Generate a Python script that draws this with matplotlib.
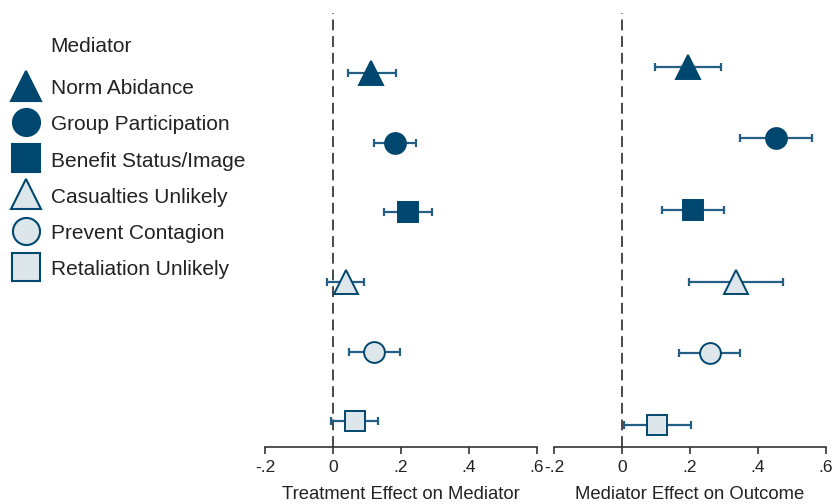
import matplotlib
matplotlib.use("Agg")
import matplotlib.pyplot as plt
from matplotlib.lines import Line2D

plt.rcParams['font.family'] = ['Liberation Sans', 'DejaVu Sans']

mediators = ["Norm Abidance", "Group Participation", "Benefit Status/Image",
             "Casualties Unlikely", "Prevent Contagion", "Retaliation Unlikely"]
treat_est = [0.113, 0.184, 0.221, 0.038, 0.122, 0.065]
treat_lo = [0.043, 0.121, 0.149, -0.016, 0.048, -0.005]
treat_hi = [0.185, 0.246, 0.292, 0.092, 0.197, 0.134]
out_est = [0.194, 0.453, 0.208, 0.335, 0.258, 0.104]
out_lo = [0.098, 0.347, 0.118, 0.197, 0.169, 0.004]
out_hi = [0.291, 0.560, 0.300, 0.474, 0.346, 0.204]
xticks = [-0.2, 0, 0.2, 0.4, 0.6]
xticklabels = ["-.2", "0", ".2", ".4", ".6"]
xlabels = ["Treatment Effect on Mediator", "Mediator Effect on Outcome"]

DARK = '#00476F'
LIGHT = '#DDE6EA'
ERR = '#245E84'
TXT = '#222222'
markers = ['^', 'o', 's', '^', 'o', 's']
fills = [DARK, DARK, DARK, LIGHT, LIGHT, LIGHT]
msizes = {'^': 17.5, 'o': 15, 's': 15}

W, H = 833, 504
fig = plt.figure(figsize=(W / 100, H / 100), dpi=100)

panels = [
    (265, 536.7, treat_est, treat_lo, treat_hi, (5.369, -0.866)),
    (554.3, 825.7, out_est, out_lo, out_hi, (5.311, -0.75)),
]
axis_y = 447
top_y = 13
for k, (x0, x1, est, lo, hi, ylim) in enumerate(panels):
    ax = fig.add_axes([x0 / W, (H - axis_y) / H, (x1 - x0) / W, (axis_y - top_y) / H])
    ax.set_xlim(-0.2, 0.6)
    ax.set_ylim(*ylim)
    ax.axvline(0, color='#2a2a2a', lw=1.2, ls=(0, (6.5, 3.5)), zorder=1)
    for i in range(len(mediators)):
        ax.errorbar([est[i]], [i], xerr=[[est[i] - lo[i]], [hi[i] - est[i]]],
                    fmt='none', ecolor=ERR, elinewidth=1.6, capsize=3.2,
                    capthick=1.6, zorder=2)
        ax.plot([est[i]], [i], marker=markers[i], ms=msizes[markers[i]],
                mfc=fills[i], mec=DARK, mew=1.4, ls='none', zorder=3)
    for s in ['left', 'right', 'top']:
        ax.spines[s].set_visible(False)
    ax.spines['bottom'].set_color('#333333')
    ax.spines['bottom'].set_linewidth(1.2)
    ax.set_yticks([])
    ax.set_xticks(xticks)
    ax.set_xticklabels(xticklabels)
    ax.tick_params(axis='x', length=5, width=1.2, color='#333333',
                   labelsize=12.5, labelcolor=TXT, pad=4)
    ax.set_xlabel(xlabels[k], fontsize=13.3, color=TXT, labelpad=8)
    ax.patch.set_alpha(0)

lsize = {'^': 22, 'o': 19.5, 's': 20}
handles = [Line2D([], [], marker=markers[i], ms=lsize[markers[i]], mfc=fills[i],
                  mec=DARK, mew=1.5, ls='none') for i in range(len(mediators))]
fs = 15
fig.text(50.7 / W, 1 - 46 / H, "Mediator", fontsize=fs, color=TXT, va='center', ha='left')
fig.legend(handles, mediators, loc='upper left', bbox_to_anchor=(9.3 / W, 1 - 77.7 / H),
           frameon=False, fontsize=fs, handlelength=1.6, handletextpad=0.4,
           borderpad=0, borderaxespad=0, labelspacing=0.755, handleheight=1.0,
           labelcolor=TXT)

fig.savefig("out.png", dpi=100)
